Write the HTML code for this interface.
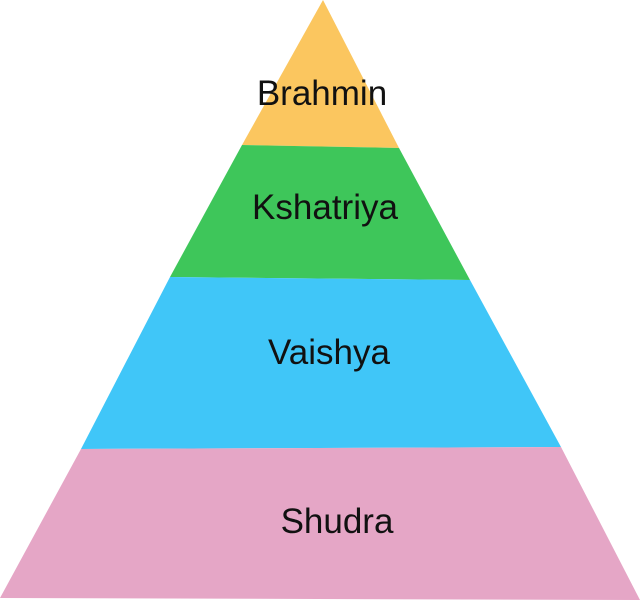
<!DOCTYPE html>
<html><head><style>html,body{margin:0;padding:0;background:#fff;}svg{display:block}</style></head>
<body>
<svg width="640" height="602" viewBox="0 0 640 602" xmlns="http://www.w3.org/2000/svg">
<polygon points="323,0 399,148 242,145" fill="#fbc65f"/>
<polygon points="242,145 399,148 470,280 170,277" fill="#3ec65a"/>
<polygon points="170,277 470,280 561,447 81,449" fill="#40c6f8"/>
<polygon points="81,449 561,447 640,600 0,598" fill="#e5a6c6"/>
<g font-family="Liberation Sans, sans-serif" font-size="35" fill="#111" text-anchor="middle">
<text x="322" y="105">Brahmin</text>
<text x="325" y="219">Kshatriya</text>
<text x="329" y="364">Vaishya</text>
<text x="337" y="533">Shudra</text>
</g>
</svg>
</body></html>
